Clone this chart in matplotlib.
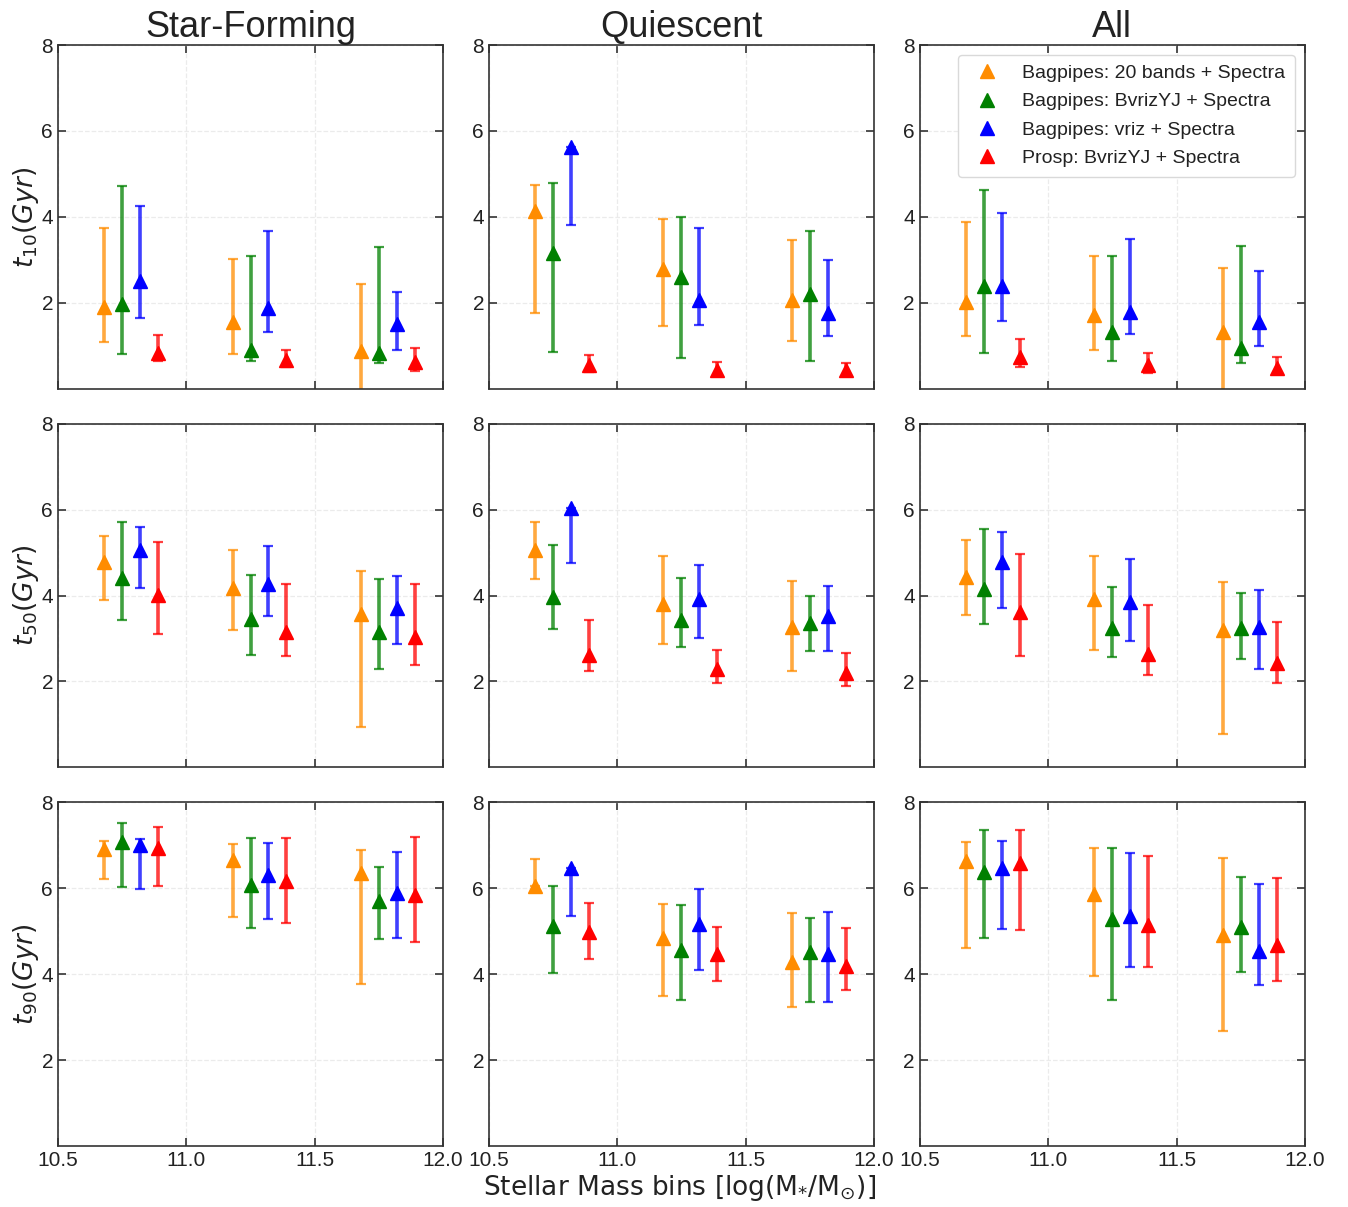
import matplotlib
matplotlib.use("Agg")
import matplotlib.pyplot as plt
import numpy as np

plt.rcParams['font.family'] = ['Liberation Sans', 'DejaVu Sans']
plt.rcParams['mathtext.fontset'] = 'dejavusans'

# ---------------- data ----------------
mass_bins = [10.75, 11.25, 11.75]
samples = ["Star-Forming", "Quiescent", "All"]
quantities = ["t10", "t50", "t90"]
methods = ["Bagpipes: 20 bands + Spectra", "Bagpipes: BvrizYJ + Spectra",
           "Bagpipes: vriz + Spectra", "Prosp: BvrizYJ + Spectra"]
xticks = [10.5, 11.0, 11.5, 12.0]
yticks = [2, 4, 6, 8]

# each: rows = methods (orange, green, blue, red), cols = mass bins
t10_sf_med = [[1.89, 1.56, 0.88], [1.96, 0.90, 0.82], [2.51, 1.87, 1.50], [0.82, 0.67, 0.63]]
t10_sf_lo = [[1.09, 0.81, -0.30], [0.80, 0.65, 0.59], [1.65, 1.33, 0.90], [0.64, 0.50, 0.42]]
t10_sf_hi = [[3.74, 3.01, 2.44], [4.72, 3.09, 3.30], [4.26, 3.67, 2.25], [1.25, 0.91, 0.95]]

t10_q_med = [[4.13, 2.79, 2.06], [3.15, 2.60, 2.20], [5.63, 2.06, 1.77], [0.55, 0.43, 0.43]]
t10_q_lo = [[1.75, 1.47, 1.12], [0.86, 0.71, 0.65], [3.81, 1.49, 1.22], [0.38, 0.29, 0.29]]
t10_q_hi = [[4.75, 3.95, 3.46], [4.78, 4.00, 3.67], [5.63, 3.73, 3.00], [0.78, 0.63, 0.60]]

t10_all_med = [[2.01, 1.71, 1.33], [2.39, 1.33, 0.94], [2.39, 1.79, 1.56], [0.74, 0.55, 0.47]]
t10_all_lo = [[1.22, 0.91, -0.30], [0.82, 0.64, 0.60], [1.57, 1.28, 0.99], [0.51, 0.37, 0.34]]
t10_all_hi = [[3.88, 3.09, 2.81], [4.62, 3.09, 3.31], [4.09, 3.48, 2.73], [1.16, 0.82, 0.74]]

t50_sf_med = [[4.78, 4.18, 3.57], [4.40, 3.45, 3.16], [5.05, 4.28, 3.72], [4.02, 3.16, 3.04]]
t50_sf_lo = [[3.90, 3.19, 0.93], [3.43, 2.61, 2.30], [4.18, 3.53, 2.87], [3.10, 2.59, 2.38]]
t50_sf_hi = [[5.38, 5.05, 4.57], [5.71, 4.47, 4.38], [5.60, 5.16, 4.46], [5.25, 4.26, 4.26]]

t50_q_med = [[5.05, 3.80, 3.27], [3.97, 3.44, 3.35], [6.04, 3.91, 3.52], [2.61, 2.30, 2.20]]
t50_q_lo = [[4.39, 2.88, 2.25], [3.23, 2.80, 2.70], [4.76, 3.02, 2.71], [2.25, 1.97, 1.89]]
t50_q_hi = [[5.71, 4.92, 4.33], [5.18, 4.40, 4.00], [6.04, 4.70, 4.23], [3.43, 2.74, 2.67]]

t50_all_med = [[4.43, 3.93, 3.19], [4.15, 3.25, 3.25], [4.78, 3.85, 3.27], [3.62, 2.65, 2.42]]
t50_all_lo = [[3.54, 2.73, 0.78], [3.34, 2.58, 2.52], [3.70, 2.95, 2.28], [2.60, 2.15, 1.97]]
t50_all_hi = [[5.30, 4.92, 4.32], [5.55, 4.20, 4.07], [5.48, 4.86, 4.12], [4.97, 3.78, 3.39]]

t90_sf_med = [[6.91, 6.67, 6.36], [7.07, 6.08, 5.71], [7.01, 6.31, 5.89], [6.93, 6.18, 5.85]]
t90_sf_lo = [[6.22, 5.33, 3.78], [6.04, 5.08, 4.81], [5.99, 5.29, 4.84], [6.06, 5.19, 4.76]]
t90_sf_hi = [[7.09, 7.04, 6.89], [7.51, 7.16, 6.49], [7.14, 7.05, 6.84], [7.43, 7.16, 7.19]]

t90_q_med = [[6.05, 4.84, 4.28], [5.12, 4.57, 4.51], [6.47, 5.16, 4.47], [4.98, 4.46, 4.20]]
t90_q_lo = [[6.05, 3.49, 3.23], [4.02, 3.39, 3.35], [5.35, 4.11, 3.36], [4.35, 3.85, 3.63]]
t90_q_hi = [[6.68, 5.63, 5.42], [6.05, 5.62, 5.30], [6.47, 5.98, 5.44], [5.65, 5.11, 5.08]]

t90_all_med = [[6.64, 5.87, 4.91], [6.39, 5.29, 5.09], [6.47, 5.35, 4.55], [6.58, 5.15, 4.67]]
t90_all_lo = [[4.61, 3.97, 2.67], [4.84, 3.41, 4.05], [5.05, 4.16, 3.76], [5.02, 4.16, 3.85]]
t90_all_hi = [[7.07, 6.95, 6.71], [7.36, 6.95, 6.27], [7.10, 6.82, 6.09], [7.36, 6.76, 6.24]]

# ---------------- style ----------------
colors = ["darkorange", "green", "blue", "red"]
offsets = [-0.07, 0.0, 0.07, 0.14]

panels = {
    (0, 0): (t10_sf_med, t10_sf_lo, t10_sf_hi),
    (0, 1): (t10_q_med, t10_q_lo, t10_q_hi),
    (0, 2): (t10_all_med, t10_all_lo, t10_all_hi),
    (1, 0): (t50_sf_med, t50_sf_lo, t50_sf_hi),
    (1, 1): (t50_q_med, t50_q_lo, t50_q_hi),
    (1, 2): (t50_all_med, t50_all_lo, t50_all_hi),
    (2, 0): (t90_sf_med, t90_sf_lo, t90_sf_hi),
    (2, 1): (t90_q_med, t90_q_lo, t90_q_hi),
    (2, 2): (t90_all_med, t90_all_lo, t90_all_hi),
}
ylabels = [r"$t_{10}(Gyr)$", r"$t_{50}(Gyr)$", r"$t_{90}(Gyr)$"]

fig, axes = plt.subplots(3, 3, figsize=(13.48, 12.07), dpi=100)
fig.subplots_adjust(left=0.043, right=0.968, top=0.9627, bottom=0.0505,
                    wspace=0.119, hspace=0.102)

spine_col = "#333333"
for (r, c), (med, lo, hi) in panels.items():
    ax = axes[r, c]
    med = np.array(med); lo = np.array(lo); hi = np.array(hi)
    for m in range(4):
        x = np.array(mass_bins) + offsets[m]
        yerr = np.vstack([med[m] - lo[m], hi[m] - med[m]])
        ax.errorbar(x, med[m], yerr=yerr, fmt='none', ecolor=colors[m],
                    elinewidth=2.6, capsize=3.5, capthick=1.6, alpha=0.75, zorder=2)
        ax.plot(x, med[m], linestyle='none', marker='^', markersize=10,
                color=colors[m], label=methods[m], zorder=3)
    ax.set_xlim(10.5, 12.0)
    ax.set_ylim(0, 8)
    ax.set_xticks(xticks)
    ax.set_yticks(yticks)
    ax.grid(True, linestyle='--', color='#ebebeb', linewidth=0.9)
    ax.set_axisbelow(True)
    ax.tick_params(direction='in', top=True, right=True, length=6, width=1.2,
                   colors=spine_col, labelsize=15, labelcolor='#222222')
    for s in ax.spines.values():
        s.set_color(spine_col)
        s.set_linewidth(1.2)
    if r < 2:
        ax.set_xticklabels([])
    else:
        ax.set_xticklabels([f"{v:.1f}" for v in xticks])
    if r == 0:
        ax.set_title(samples[c], fontsize=26, color='#222222', pad=6)
    if c == 0:
        ax.set_ylabel(ylabels[r], fontsize=19, color='#222222', labelpad=0)

leg = axes[0, 2].legend(loc='upper right', fontsize=14, frameon=True,
                        fancybox=True, framealpha=1.0, edgecolor='#d9d9d9',
                        labelspacing=0.55, borderpad=0.5)
for t in leg.get_texts():
    t.set_color('#222222')

fig.text(0.5045, 0.003, r"Stellar Mass bins [log(M$_{*}$/M$_{\odot}$)]",
         ha='center', va='bottom', fontsize=19, color='#222222', family='DejaVu Sans')

fig.savefig("out.png", dpi=100)
